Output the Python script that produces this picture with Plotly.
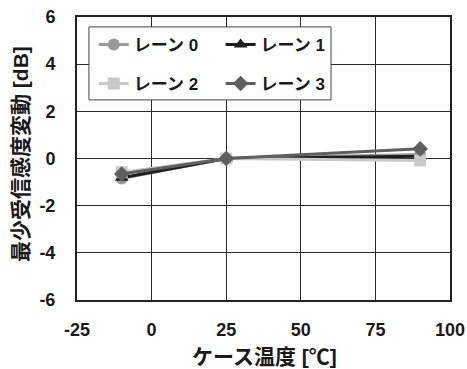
import plotly.graph_objects as go

temps = [-10, 25, 90]
lane0 = [-0.85, 0.0, 0.17]
lane1 = [-0.82, 0.0, 0.10]
lane2 = [-0.58, 0.0, -0.08]
lane3 = [-0.66, 0.0, 0.41]
names = ["レーン 0", "レーン 1", "レーン 2", "レーン 3"]
colors = ["#9a9a9b", "#1e1e1e", "#c9c9c9", "#5f5f60"]
symbols = ["circle", "triangle-up", "square", "diamond"]
legends = ["legend", "legend2", "legend", "legend2"]
xticks = [-25, 0, 25, 50, 75, 100]
yticks = [-6, -4, -2, 0, 2, 4, 6]

fig = go.Figure()
for name, ys, c, s, lg in zip(names, [lane0, lane1, lane2, lane3], colors, symbols, legends):
    fig.add_trace(go.Scatter(x=temps, y=ys, name=name, mode="lines+markers",
                             line=dict(color=c, width=3),
                             marker=dict(symbol=s, size=12, color=c),
                             legend=lg, legendgroup=name))

font_jp = "Liberation Sans, Noto Sans CJK JP, sans-serif"
txt = "#1a1a1a"
fig.add_shape(type="rect", xref="paper", yref="paper", x0=0.032, x1=0.681, y0=0.707, y1=0.965,
              line=dict(color="#444", width=1), fillcolor="white", layer="above")

leg_common = dict(bgcolor="rgba(0,0,0,0)", borderwidth=0, tracegroupgap=14,
                  font=dict(family=font_jp, size=17, color=txt, weight="bold"),
                  xanchor="left", yanchor="top")
fig.update_layout(
    width=467, height=369,
    margin=dict(l=77, r=17, t=17, b=69),
    paper_bgcolor="white", plot_bgcolor="white",
    legend=dict(x=0.045, y=0.965, **leg_common),
    legend2=dict(x=0.385, y=0.965, **leg_common),
    xaxis=dict(range=[-25, 100], tickvals=xticks, ticktext=[str(v) for v in xticks],
               showgrid=True, gridcolor="#2a2a2a", gridwidth=1, zeroline=False,
               showline=True, mirror=True, linecolor="#222", linewidth=2, ticks="",
               automargin=False, ticklabelstandoff=12,
               tickfont=dict(family=font_jp, size=18, color=txt, weight="bold")),
    yaxis=dict(range=[-6, 6], tickvals=yticks, ticktext=[str(v) for v in yticks],
               showgrid=True, gridcolor="#2a2a2a", gridwidth=1, zeroline=False,
               showline=True, mirror=True, linecolor="#222", linewidth=2, ticks="",
               automargin=False, ticklabelstandoff=16,
               tickfont=dict(family=font_jp, size=18, color=txt, weight="bold")),
    annotations=[
        dict(text="ケース温度 [℃]", xref="paper", yref="paper", x=0.504, y=-0.198,
             xanchor="center", yanchor="middle", showarrow=False,
             font=dict(family=font_jp, size=21, color=txt, weight="bold")),
        dict(text="最少受信感度変動 [dB]", xref="paper", yref="paper", x=-0.150, y=0.516,
             xanchor="center", yanchor="middle", showarrow=False, textangle=-90,
             font=dict(family=font_jp, size=21, color=txt, weight="bold")),
    ],
)
fig.write_html("out.html")
